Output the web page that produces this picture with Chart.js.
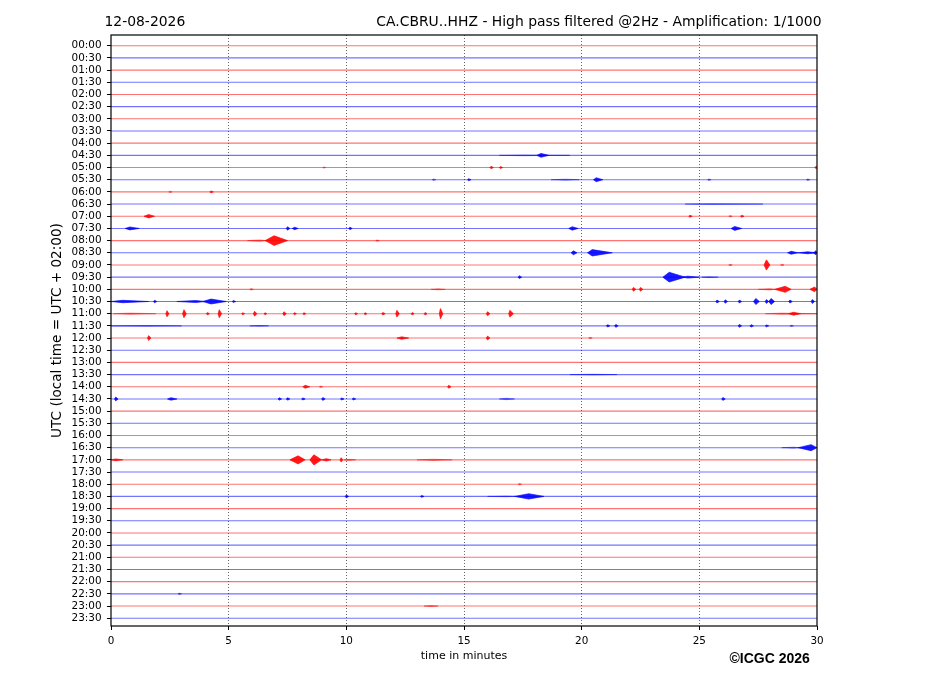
<!DOCTYPE html>
<html>
<head>
<meta charset="utf-8">
<script src="https://cdn.jsdelivr.net/npm/chart.js@4.4.1/dist/chart.umd.min.js"></script>
<style>
  html, body { margin: 0; padding: 0; background: #fff; }
  #wrap { width: 927px; height: 696px; }
</style>
</head>
<body>
<div id="wrap"><canvas id="c" width="927" height="696"></canvas></div>
<script>
// ---------------- DATA ----------------
const dateLabel = '12-08-2026';
const stationTitle = 'CA.CBRU..HHZ - High pass filtered @2Hz - Amplification: 1/1000';
const copyrightText = '\u00A9ICGC 2026';

// one helicorder row every 30 minutes (y tick labels)
const rowLabels = [
  '00:00','00:30','01:00','01:30','02:00','02:30','03:00','03:30',
  '04:00','04:30','05:00','05:30','06:00','06:30','07:00','07:30',
  '08:00','08:30','09:00','09:30','10:00','10:30','11:00','11:30',
  '12:00','12:30','13:00','13:30','14:00','14:30','15:00','15:30',
  '16:00','16:30','17:00','17:30','18:00','18:30','19:00','19:30',
  '20:00','20:30','21:00','21:30','22:00','22:30','23:00','23:30'
];
const minuteTicks = [0, 5, 10, 15, 20, 25, 30];

// signal bursts:
// [row index, start minute, peak minute, end minute, peak half-amplitude (in row units)]
const events = [
  [9, 16.5, 17.5, 19.5, 0.03], [9, 18.1, 18.27, 18.6, 0.16],
  [10, 9.0, 9.05, 9.12, 0.05], [10, 16.1, 16.15, 16.25, 0.1], [10, 16.5, 16.55, 16.65, 0.08], [10, 29.9, 29.97, 30, 0.1],
  [11, 13.65, 13.7, 13.8, 0.06], [11, 15.15, 15.2, 15.3, 0.08], [11, 18.7, 19.3, 19.9, 0.04], [11, 20.5, 20.62, 20.9, 0.16],
  [11, 25.35, 25.4, 25.5, 0.06], [11, 29.55, 29.6, 29.7, 0.06],
  [12, 2.45, 2.5, 2.6, 0.06], [12, 4.2, 4.25, 4.35, 0.08],
  [13, 24.4, 25.5, 27.7, 0.03],
  [14, 1.4, 1.6, 1.85, 0.14], [14, 24.55, 24.6, 24.7, 0.08], [14, 26.25, 26.3, 26.4, 0.06], [14, 26.75, 26.8, 26.9, 0.08],
  [15, 0.6, 0.8, 1.2, 0.12], [15, 7.45, 7.5, 7.6, 0.14], [15, 7.7, 7.8, 7.95, 0.1], [15, 10.1, 10.15, 10.25, 0.1],
  [15, 19.45, 19.6, 19.85, 0.14], [15, 26.35, 26.5, 26.8, 0.16],
  [16, 5.8, 6.3, 6.6, 0.06], [16, 6.55, 6.93, 7.5, 0.4], [16, 11.25, 11.3, 11.4, 0.06],
  [17, 19.55, 19.65, 19.8, 0.16], [17, 20.25, 20.45, 21.3, 0.26], [17, 28.75, 28.9, 29.2, 0.12], [17, 29.2, 29.6, 30, 0.08], [17, 29.85, 29.95, 30, 0.16],
  [18, 26.25, 26.3, 26.4, 0.06], [18, 27.75, 27.85, 28.0, 0.42], [18, 28.45, 28.5, 28.6, 0.06],
  [19, 17.3, 17.35, 17.45, 0.12], [19, 23.45, 23.72, 24.4, 0.4], [19, 24.3, 24.5, 25.0, 0.08], [19, 25.1, 25.4, 25.8, 0.04],
  [20, 5.9, 5.95, 6.05, 0.06], [20, 13.6, 13.9, 14.2, 0.04], [20, 22.15, 22.2, 22.3, 0.16], [20, 22.45, 22.5, 22.6, 0.16],
  [20, 27.5, 28.0, 28.2, 0.05], [20, 28.2, 28.65, 28.9, 0.25], [20, 29.7, 29.9, 30, 0.2],
  [21, 0, 0.5, 1.6, 0.1], [21, 1.8, 1.85, 1.95, 0.1], [21, 2.8, 3.6, 4.0, 0.08], [21, 3.9, 4.25, 4.9, 0.2], [21, 5.15, 5.2, 5.3, 0.08],
  [21, 25.7, 25.75, 25.85, 0.12], [21, 26.05, 26.1, 26.2, 0.14], [21, 26.65, 26.7, 26.8, 0.12], [21, 27.3, 27.4, 27.55, 0.25],
  [21, 27.8, 27.85, 27.95, 0.16], [21, 27.95, 28.05, 28.2, 0.25], [21, 28.8, 28.85, 28.95, 0.12], [21, 29.75, 29.8, 29.9, 0.16],
  [22, 0.1, 0.8, 1.9, 0.05], [22, 2.33, 2.38, 2.46, 0.25], [22, 3.04, 3.1, 3.2, 0.33], [22, 4.05, 4.1, 4.18, 0.1],
  [22, 4.55, 4.6, 4.7, 0.33], [22, 5.55, 5.6, 5.68, 0.08], [22, 6.05, 6.1, 6.2, 0.2], [22, 6.5, 6.55, 6.62, 0.08],
  [22, 7.3, 7.35, 7.45, 0.16], [22, 7.75, 7.8, 7.88, 0.08], [22, 8.15, 8.2, 8.28, 0.08], [22, 10.35, 10.4, 10.48, 0.08],
  [22, 10.75, 10.8, 10.88, 0.08], [22, 11.5, 11.55, 11.65, 0.1], [22, 12.1, 12.15, 12.25, 0.28], [22, 12.75, 12.8, 12.88, 0.1],
  [22, 13.3, 13.35, 13.43, 0.1], [22, 13.95, 14.0, 14.1, 0.42], [22, 15.95, 16.0, 16.1, 0.16], [22, 16.9, 16.95, 17.1, 0.28],
  [22, 27.8, 28.5, 30, 0.05], [22, 28.8, 29.0, 29.3, 0.12],
  [23, 0, 1.5, 3.0, 0.03], [23, 5.9, 6.3, 6.7, 0.03], [23, 21.05, 21.1, 21.2, 0.1], [23, 21.4, 21.45, 21.55, 0.12],
  [23, 26.65, 26.7, 26.8, 0.12], [23, 27.15, 27.2, 27.3, 0.1], [23, 27.8, 27.85, 27.95, 0.08], [23, 28.85, 28.9, 29.0, 0.06],
  [24, 1.55, 1.6, 1.7, 0.2], [24, 12.15, 12.35, 12.65, 0.1], [24, 15.95, 16.0, 16.1, 0.16], [24, 20.3, 20.35, 20.45, 0.06],
  [27, 19.5, 20.5, 21.5, 0.03],
  [28, 8.15, 8.25, 8.45, 0.12], [28, 8.85, 8.9, 9.0, 0.06], [28, 14.3, 14.35, 14.45, 0.12],
  [29, 0.15, 0.2, 0.3, 0.16], [29, 2.4, 2.55, 2.8, 0.1], [29, 7.1, 7.15, 7.25, 0.1], [29, 7.45, 7.5, 7.6, 0.1],
  [29, 8.1, 8.15, 8.25, 0.08], [29, 8.95, 9.0, 9.1, 0.12], [29, 9.75, 9.8, 9.9, 0.08], [29, 10.25, 10.3, 10.4, 0.08],
  [29, 16.5, 16.8, 17.15, 0.06], [29, 25.95, 26.0, 26.1, 0.12],
  [33, 28.5, 29.0, 29.3, 0.04], [33, 29.2, 29.75, 30, 0.25],
  [34, 0, 0.2, 0.5, 0.08], [34, 7.6, 7.95, 8.25, 0.33], [34, 8.45, 8.62, 8.95, 0.42], [34, 8.95, 9.15, 9.35, 0.1],
  [34, 9.73, 9.78, 9.85, 0.18], [34, 9.9, 10.1, 10.4, 0.05], [34, 13.0, 13.7, 14.5, 0.05],
  [36, 17.3, 17.35, 17.45, 0.06],
  [37, 9.95, 10.0, 10.1, 0.12], [37, 13.15, 13.2, 13.3, 0.08], [37, 16.0, 16.8, 17.2, 0.03], [37, 17.15, 17.75, 18.4, 0.22],
  [45, 2.85, 2.9, 3.0, 0.06],
  [46, 13.3, 13.6, 13.9, 0.05]
];

// ---------------- STYLE ----------------
const RED_LINE = 'rgba(255,0,0,0.55)';
const BLUE_LINE = 'rgba(0,0,255,0.55)';
const FONT = 'DejaVu Sans';
function burstColour(row, amp) {
  const alpha = amp < 0.07 ? 0.55 : 0.9;
  return row % 2 ? 'rgba(0,0,255,' + alpha + ')' : 'rgba(255,0,0,' + alpha + ')';
}

const datasets = [];
rowLabels.forEach((lab, r) => {
  datasets.push({
    label: lab,
    data: [{x: minuteTicks[0], y: r}, {x: minuteTicks[minuteTicks.length - 1], y: r}],
    showLine: true, borderColor: r % 2 ? BLUE_LINE : RED_LINE, borderWidth: 1.1,
    pointRadius: 0, fill: false, order: 2
  });
});
events.forEach(([r, s, p, e, a]) => {
  const col = burstColour(r, a);
  datasets.push({
    label: rowLabels[r] + ' burst',
    data: [{x: s, y: r}, {x: p, y: r - a}, {x: e, y: r}, {x: p, y: r + a}, {x: s, y: r}],
    showLine: true, borderColor: col, backgroundColor: col, borderWidth: 0.7,
    pointRadius: 0, fill: 'shape', tension: 0, order: 1
  });
});

const framePlugin = {
  id: 'frame',
  afterDraw(chart) {
    const {ctx, chartArea: a} = chart;
    ctx.save();
    ctx.strokeStyle = '#000';
    ctx.lineWidth = 1.2;
    ctx.strokeRect(a.left, a.top, a.right - a.left, a.bottom - a.top);
    ctx.fillStyle = '#000';
    ctx.textBaseline = 'alphabetic';
    ctx.font = '13.9px "' + FONT + '"';
    ctx.textAlign = 'left';
    ctx.fillText(dateLabel, 104.5, 25.7);
    ctx.textAlign = 'right';
    ctx.fillText(stationTitle, 821.5, 25.7);
    ctx.font = 'bold 14px "Liberation Sans"';
    ctx.textAlign = 'left';
    ctx.fillText(copyrightText, 729.5, 662.7);
    ctx.restore();
  }
};

new Chart(document.getElementById('c'), {
  type: 'scatter',
  data: { datasets },
  options: {
    responsive: false,
    animation: false,
    devicePixelRatio: 1,
    layout: { padding: { left: 0, top: 35, right: 110, bottom: 0 } },
    plugins: { legend: { display: false }, tooltip: { enabled: false }, title: { display: false } },
    scales: {
      x: {
        type: 'linear', min: 0, max: 30, offset: false,
        afterBuildTicks: s => { s.ticks = minuteTicks.map(v => ({value: v})); },
        ticks: { font: { family: FONT, size: 10.4 }, color: '#000', padding: 5.2, maxRotation: 0, autoSkip: false },
        grid: {
          color: c => (c.tick && c.tick.value > 0 && c.tick.value < 30) ? 'rgba(0,0,0,0.75)' : 'rgba(0,0,0,0)',
          lineWidth: 0.8, drawTicks: true, tickLength: 4, tickColor: '#000', tickWidth: 1, tickBorderDash: []
        },
        border: { display: false, dash: [1, 2] },
        title: { display: true, text: 'time in minutes', font: { family: FONT, size: 11 }, color: '#000', padding: { top: 0, bottom: 33.4 } },
        afterFit: s => { s.height = 70; }
      },
      y: {
        type: 'linear', reverse: true, min: -0.88, max: 47.64,
        afterBuildTicks: s => { s.ticks = rowLabels.map((_, i) => ({value: i})); },
        ticks: { autoSkip: false, font: { family: FONT, size: 10.4 }, color: '#000', padding: 5.5,
                 callback: v => rowLabels[Math.round(v)] },
        grid: { drawOnChartArea: false, drawTicks: true, tickLength: 4, tickColor: '#000', tickWidth: 1 },
        border: { display: false },
        title: { display: true, text: 'UTC (local time = UTC + 02:00)', font: { family: FONT, size: 13.6 }, color: '#000', padding: { top: 49, bottom: 0 } },
        afterFit: s => { s.width = 111; }
      }
    }
  },
  plugins: [framePlugin]
});
</script>
</body>
</html>
